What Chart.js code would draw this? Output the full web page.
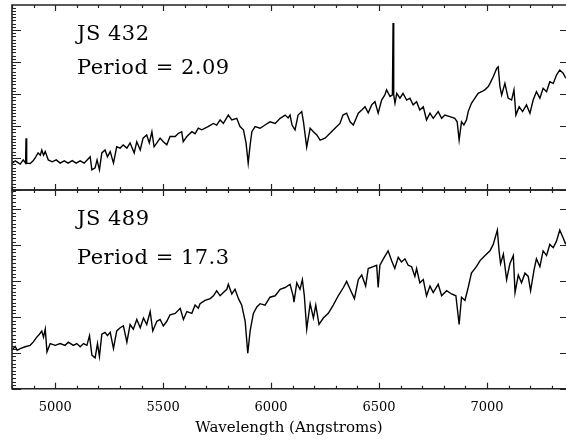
<!DOCTYPE html>
<html>
<head>
<meta charset="utf-8">
<script src="https://cdn.jsdelivr.net/npm/chart.js@4/dist/chart.umd.min.js"></script>
<style>
  body { margin: 0; background: #fff; }
  .wrap { position: relative; width: 566px; height: 440px; overflow: hidden; }
  canvas { position: absolute; left: 0; }
  #top { top: 0; }
  #bottom { top: 185px; }
</style>
</head>
<body>
<div class="wrap">
  <canvas id="top" width="566" height="195"></canvas>
  <canvas id="bottom" width="566" height="255"></canvas>
</div>
<script>
// wavelength (Angstroms) and relative flux
const wl432 = [4800, 4815, 4838, 4852, 4863, 4865, 4868, 4884, 4898, 4907, 4921, 4931, 4938, 4946, 4954, 4968, 4986, 5005, 5023, 5042,
  5060, 5079, 5097, 5116, 5134, 5148, 5162, 5170, 5185, 5194, 5205, 5216, 5231, 5242, 5255, 5270, 5285, 5301, 5315, 5332,
  5347, 5366, 5378, 5394, 5407, 5424, 5436, 5448, 5458, 5471, 5486, 5501, 5517, 5532, 5556, 5571, 5586, 5593, 5610, 5633,
  5648, 5663, 5679, 5708, 5733, 5748, 5764, 5779, 5802, 5818, 5841, 5856, 5872, 5884, 5894, 5903, 5911, 5926, 5949, 5972,
  5995, 6019, 6042, 6065, 6079, 6088, 6097, 6111, 6125, 6142, 6150, 6165, 6181, 6196, 6212, 6227, 6250, 6273, 6296, 6319,
  6333, 6350, 6366, 6381, 6404, 6420, 6435, 6450, 6466, 6481, 6496, 6512, 6527, 6535, 6551, 6562, 6565, 6568, 6574, 6582,
  6597, 6611, 6628, 6643, 6658, 6674, 6689, 6705, 6720, 6736, 6751, 6774, 6790, 6805, 6828, 6851, 6862, 6871, 6882, 6893,
  6905, 6913, 6928, 6944, 6959, 6975, 6990, 7006, 7014, 7029, 7045, 7052, 7060, 7068, 7083, 7098, 7114, 7125, 7134, 7149,
  7165, 7183, 7199, 7214, 7229, 7245, 7260, 7276, 7291, 7307, 7322, 7337, 7353, 7365];
const flux432 = [0.83, 0.91, 0.81, 0.94, 0.84, 1.62, 0.84, 0.83, 0.91, 1.00, 1.16, 1.09, 1.25, 1.09, 1.20, 0.94, 0.88, 0.94, 0.84, 0.91,
  0.84, 0.92, 0.84, 0.91, 0.84, 0.94, 1.04, 0.63, 0.69, 0.94, 0.63, 1.16, 1.25, 1.04, 1.20, 0.84, 1.35, 1.31, 1.41, 1.31,
  1.47, 1.16, 1.51, 1.25, 1.62, 1.72, 1.47, 1.82, 1.35, 1.47, 1.62, 1.51, 1.41, 1.67, 1.67, 1.77, 1.82, 1.51, 1.67, 1.82,
  1.76, 1.93, 1.88, 1.98, 2.08, 2.03, 2.19, 2.08, 2.34, 2.19, 2.24, 1.98, 1.88, 1.47, 0.84, 1.41, 1.82, 1.98, 1.93, 2.03,
  2.13, 2.08, 2.24, 2.34, 2.25, 2.34, 2.03, 1.88, 2.34, 2.45, 2.13, 1.34, 1.93, 1.82, 1.72, 1.56, 1.62, 1.77, 1.93, 2.08,
  2.34, 2.40, 2.13, 2.03, 2.40, 2.50, 2.60, 2.41, 2.66, 2.76, 2.40, 2.81, 2.97, 3.13, 2.92, 2.97, 5.22, 2.97, 2.71, 3.02,
  2.87, 3.02, 2.81, 2.87, 2.66, 2.76, 2.50, 2.60, 2.19, 2.40, 2.24, 2.45, 2.24, 2.34, 2.29, 2.24, 2.13, 1.56, 2.13, 2.03,
  2.19, 2.45, 2.71, 2.87, 3.02, 3.07, 3.13, 3.23, 3.33, 3.54, 3.80, 3.85, 3.23, 2.97, 3.33, 2.87, 2.81, 3.13, 2.34, 2.60,
  2.45, 2.66, 2.40, 2.81, 3.07, 2.87, 3.18, 3.07, 3.38, 3.33, 3.59, 3.75, 3.65, 3.49];

const wl489 = [4800, 4815, 4824, 4838, 4861, 4884, 4898, 4915, 4927, 4938, 4946, 4954, 4962, 4977, 5000, 5023, 5046, 5061, 5084, 5100,
  5116, 5131, 5147, 5159, 5170, 5185, 5196, 5205, 5216, 5231, 5242, 5255, 5270, 5285, 5301, 5316, 5332, 5347, 5362, 5378,
  5394, 5409, 5424, 5440, 5452, 5471, 5486, 5501, 5517, 5532, 5556, 5579, 5594, 5610, 5633, 5648, 5663, 5671, 5694, 5718,
  5733, 5748, 5764, 5779, 5795, 5802, 5818, 5833, 5849, 5864, 5880, 5892, 5903, 5918, 5934, 5949, 5972, 5995, 6019, 6042,
  6065, 6088, 6102, 6106, 6119, 6134, 6145, 6154, 6165, 6181, 6196, 6207, 6222, 6242, 6265, 6288, 6311, 6335, 6350, 6366,
  6386, 6404, 6420, 6438, 6450, 6473, 6489, 6496, 6504, 6524, 6542, 6558, 6573, 6589, 6604, 6620, 6635, 6651, 6666, 6674,
  6689, 6705, 6720, 6736, 6751, 6774, 6790, 6813, 6836, 6856, 6871, 6882, 6898, 6913, 6928, 6951, 6968, 6991, 7014, 7029,
  7048, 7056, 7063, 7076, 7091, 7106, 7122, 7130, 7145, 7160, 7176, 7191, 7202, 7218, 7229, 7245, 7260, 7276, 7291, 7307,
  7322, 7337, 7353, 7365];
const flux489 = [1.08, 1.18, 1.07, 1.12, 1.17, 1.21, 1.30, 1.44, 1.52, 1.61, 1.44, 1.66, 1.03, 1.26, 1.21, 1.26, 1.21, 1.30, 1.21, 1.26,
  1.17, 1.26, 1.21, 1.48, 0.94, 0.86, 1.26, 0.90, 1.52, 1.57, 1.48, 1.57, 1.12, 1.61, 1.70, 1.75, 1.30, 1.79, 1.66, 1.93,
  1.70, 1.97, 1.79, 2.15, 1.61, 1.88, 1.93, 1.75, 1.88, 2.06, 2.10, 2.24, 1.93, 2.15, 2.10, 2.33, 2.24, 2.37, 2.46, 2.51,
  2.59, 2.73, 2.59, 2.68, 2.77, 2.91, 2.64, 2.77, 2.51, 2.33, 1.88, 0.99, 1.61, 2.10, 2.28, 2.37, 2.33, 2.55, 2.59, 2.77,
  2.82, 2.91, 2.59, 2.41, 2.95, 2.77, 3.04, 2.59, 1.66, 2.37, 1.97, 2.33, 1.79, 1.97, 2.10, 2.33, 2.59, 2.82, 2.99, 2.77,
  2.51, 3.04, 3.17, 2.86, 3.35, 3.40, 3.44, 2.82, 3.44, 3.66, 3.84, 3.57, 3.35, 3.66, 3.53, 3.62, 3.44, 3.40, 3.13, 3.35,
  2.95, 3.04, 2.59, 2.86, 2.68, 2.91, 2.59, 2.73, 2.64, 2.59, 1.79, 2.55, 2.46, 2.82, 3.22, 3.40, 3.57, 3.71, 3.84, 4.02,
  4.42, 3.84, 3.48, 3.75, 3.04, 3.48, 3.71, 2.68, 3.17, 2.95, 3.22, 3.13, 2.73, 3.31, 3.62, 3.40, 3.84, 3.71, 4.02, 3.93,
  4.11, 4.42, 4.20, 4.02];

const xTicks = [5000, 5500, 6000, 6500, 7000];
const labels432 = ['JS 432', 'Period = 2.09'];
const labels489 = ['JS 489', 'Period = 17.3'];

const X_MIN = 4800, X_MAX = 7366;

// frame (right edge falls just off the page) with inward ticks, plus the star labels
function framePlugin(labels, yTop, lineGap) {
  return {
    id: 'frame',
    afterDatasetsDraw(chart) {
      const { ctx, chartArea: a, scales } = chart;
      const x = scales.x, y = scales.y;
      ctx.save();
      ctx.strokeStyle = '#222';
      ctx.lineWidth = 1.6;
      ctx.beginPath();
      ctx.moveTo(a.right + 2, a.top); ctx.lineTo(a.left, a.top);
      ctx.lineTo(a.left, a.bottom); ctx.lineTo(a.right + 2, a.bottom);
      ctx.stroke();

      ctx.lineWidth = 1.2;
      ctx.beginPath();
      for (let v = 4800; v <= X_MAX; v += 100) {
        const px = Math.round(x.getPixelForValue(v)) + 0.5;
        const len = v % 500 === 0 ? 6 : 3;
        ctx.moveTo(px, a.bottom); ctx.lineTo(px, a.bottom - len);
        ctx.moveTo(px, a.top); ctx.lineTo(px, a.top + len);
      }
      for (let i = 0; i * 0.1 <= yTop; i++) {
        const py = Math.round(y.getPixelForValue(i * 0.1)) + 0.5;
        const major = i % 10 === 0;
        ctx.moveTo(a.left, py); ctx.lineTo(a.left + (major ? 9 : 4), py);
        if (major) { ctx.moveTo(a.right, py); ctx.lineTo(a.right - 6, py); }
      }
      ctx.stroke();

      ctx.fillStyle = '#000';
      ctx.font = '21px "DejaVu Serif"';
      ctx.letterSpacing = '0.5px';
      ctx.textBaseline = 'alphabetic';
      ctx.fillText(labels[0], 77, a.top + 35);
      ctx.fillText(labels[1], 77, a.top + 35 + lineGap);
      ctx.restore();
    }
  };
}

function makeChart(id, wl, flux, yTop, labels, lineGap, showAxis, pad) {
  return new Chart(document.getElementById(id), {
    type: 'line',
    data: {
      datasets: [{
        data: wl.map((w, i) => ({ x: w, y: flux[i] })),
        borderColor: '#000',
        borderWidth: 1.4,
        pointRadius: 0,
        tension: 0
      }]
    },
    options: {
      responsive: false,
      devicePixelRatio: 1,
      animation: false,
      layout: { padding: pad },
      plugins: { legend: { display: false }, tooltip: { enabled: false } },
      scales: {
        x: {
          type: 'linear', min: X_MIN, max: X_MAX,
          display: showAxis,
          afterBuildTicks: s => { s.ticks = xTicks.map(v => ({ value: v })); },
          grid: { display: false },
          border: { display: false },
          ticks: {
            color: '#000', padding: 3,
            font: { family: 'DejaVu Serif', size: 13 },
            callback: v => String(v)
          },
          title: {
            display: true, text: 'Wavelength (Angstroms)', color: '#000',
            padding: { top: 1, bottom: 0 },
            font: { family: 'DejaVu Serif', size: 15 }
          }
        },
        y: { type: 'linear', min: 0, max: yTop, display: false }
      }
    },
    plugins: [framePlugin(labels, yTop, lineGap)]
  });
}

makeChart('top', wl432, flux432, 5.78, labels432, 34, false, { left: 12, right: 0, top: 5, bottom: 5 });
makeChart('bottom', wl489, flux489, 5.535, labels489, 39, true, { left: 12, right: 0, top: 5, bottom: 2.6 });
</script>
</body>
</html>
